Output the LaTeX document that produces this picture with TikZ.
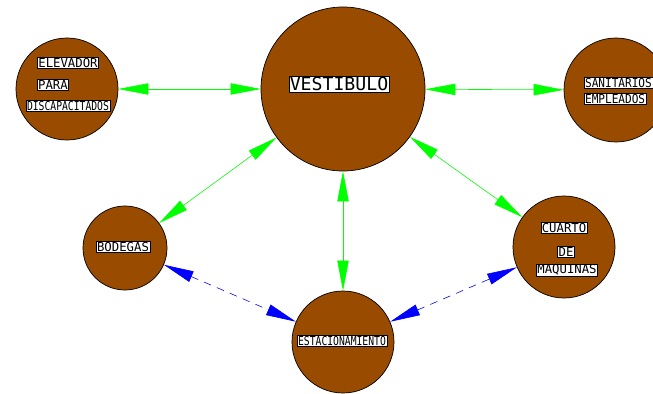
\documentclass[tikz,border=0pt]{standalone}
\usepackage{fontspec}
\newfontfamily\cadfont{DejaVu Sans Mono}
\newfontfamily\cadfontm[FakeStretch=0.9]{DejaVu Sans Mono}
\newfontfamily\cadfontn[FakeStretch=0.79]{DejaVu Sans Mono}
\usetikzlibrary{arrows.meta}
\definecolor{ladrillo}{RGB}{153,76,0}

\begin{document}
\begin{tikzpicture}[x=0.3mm,y=-0.3mm,line cap=round,
  sala/.style={circle,draw=black,line width=0.6pt,fill=ladrillo,inner sep=0pt,minimum size=#1},
  rotulo/.style={draw=black,line width=0.3pt,fill=white,inner sep=0.8pt,font=\cadfont\fontsize{10.5}{10.5}\selectfont},
  medio/.style={font=\cadfontm\fontsize{10.5}{10.5}\selectfont},
  chico/.style={font=\cadfontn\fontsize{10.5}{10.5}\selectfont},
  verde/.style={draw=green,line width=0.5pt,{Triangle[length=9mm,width=3.4mm,fill=green]}-{Triangle[length=9mm,width=3.4mm,fill=green]}},
  azul/.style={draw=blue,line width=0.5pt,dash pattern=on 2.2mm off 2mm,{Triangle[length=9mm,width=3.4mm,fill=blue]}-{Triangle[length=9mm,width=3.4mm,fill=blue]}}]
\clip (0,0) rectangle (653,394);
\fill[white] (0,0) rectangle (653,394);
% salas
\node[sala=49.2mm] (vestibulo) at (343,89) {};
\node[sala=30.6mm] (elevador) at (67,89) {};
\node[sala=31.2mm] (sanitarios) at (616,90) {};
\node[sala=25.2mm] (bodegas) at (125,248) {};
\node[sala=30.6mm] (cuarto) at (564,247) {};
\node[sala=30.6mm] (estacion) at (343,342) {};
% rotulos
\node[rotulo,font=\cadfont\fontsize{15.5}{15.5}\selectfont] (t-vest) at (339,84) {VESTIBULO};
\node[rotulo] (t-elev1) at (68,63) {ELEVADOR};
\node[rotulo,anchor=west] (t-elev2) at (37,85) {PARA};
\node[rotulo,chico] (t-elev3) at (68,106) {DISCAPACITADOS};
\node[rotulo,medio,anchor=west] (t-sani1) at (584,83) {SANITARIOS};
\node[rotulo,medio,anchor=west] (t-sani2) at (584,99) {EMPLEADOS};
\node[rotulo] (t-bode) at (123,247) {BODEGAS};
\node[rotulo] (t-cuar1) at (564,228) {CUARTO};
\node[rotulo] (t-cuar2) at (566,252) {DE};
\node[rotulo] (t-cuar3) at (567,270) {MAQUINAS};
\node[rotulo,chico] (t-esta) at (342,341) {ESTACIONAMIENTO};
% relaciones
\draw[verde] (elevador) -- (vestibulo);
\draw[verde] (vestibulo) -- (sanitarios);
\draw[verde] (vestibulo) -- (bodegas);
\draw[verde] (vestibulo) -- (cuarto);
\draw[verde] (vestibulo) -- (estacion);
\draw[azul] (bodegas) -- (estacion);
\draw[azul] (estacion) -- (cuarto);
\end{tikzpicture}
\end{document}
